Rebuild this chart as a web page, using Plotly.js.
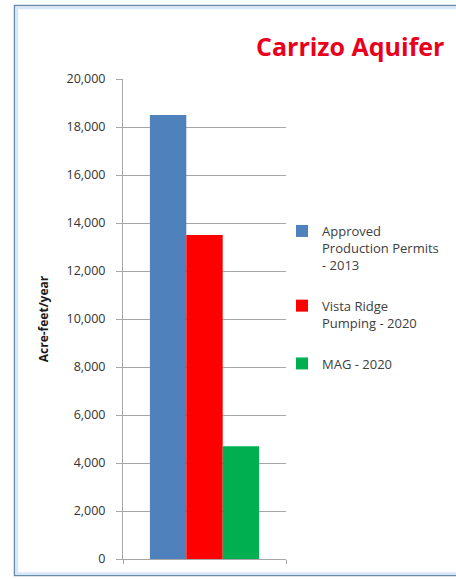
<!DOCTYPE html>
<html>
<head>
<meta charset="utf-8">
<script src="https://cdn.plot.ly/plotly-3.0.1.min.js"></script>
<style>
html,body{margin:0;padding:0;background:#fff;overflow:hidden;}
#chart{width:456px;height:579px;}
</style>
</head>
<body>
<div id="chart"></div>
<script>
const categories = ["Carrizo Aquifer"];
const seriesNames = ["Approved<br>Production Permits<br>- 2013", "Vista Ridge<br>Pumping - 2020", "MAG - 2020"];
const seriesValues = [[18500], [13500], [4700]];
const seriesColors = ["#4f81bd", "#ff0000", "#00b050"];
const yTickValues = [0, 2000, 4000, 6000, 8000, 10000, 12000, 14000, 16000, 18000, 20000];
const yTickLabels = ["0", "2,000", "4,000", "6,000", "8,000", "10,000", "12,000", "14,000", "16,000", "18,000", "20,000"];

const traces = seriesNames.map((name, i) => ({
  type: "bar",
  name: name,
  x: categories,
  y: seriesValues[i],
  marker: {color: seriesColors[i], line: {width: 0}},
  legendgroup: "g" + i,
  hoverinfo: "y+name"
}));

const L = 123, R = 286, T = 79, B = 559;
const px2x = p => (p - L) / (R - L);
const px2y = p => (B - p) / (B - T);

const layout = {
  width: 456, height: 579,
  margin: {l: L, r: 456 - R, t: T, b: 579 - B, autoexpand: false},
  paper_bgcolor: "#ffffff",
  plot_bgcolor: "#ffffff",
  font: {family: "Open Sans, sans-serif", color: "#404040", size: 12},
  barmode: "group",
  bargap: 0.33,
  bargroupgap: 0,
  title: {
    text: "Carrizo Aquifer",
    font: {family: "Open Sans, sans-serif", size: 25, color: "#e8001c", weight: "bold"},
    x: 256 / 456, xref: "container", xanchor: "left",
    y: 1 - 47 / 579, yref: "container", yanchor: "middle"
  },
  xaxis: {
    showticklabels: false,
    showgrid: false,
    showline: true,
    linecolor: "#a6a6a6",
    linewidth: 1,
    ticks: "outside",
    tickson: "boundaries",
    ticklen: 4,
    tickcolor: "#a6a6a6",
    zeroline: false,
    fixedrange: true
  },
  yaxis: {
    range: [0, 20000],
    tickvals: yTickValues,
    ticktext: yTickLabels,
    showline: true,
    linecolor: "#a6a6a6",
    linewidth: 1,
    ticks: "outside",
    ticklen: 6,
    tickcolor: "#a6a6a6",
    ticklabelstandoff: 8,
    showgrid: true,
    gridcolor: "#a6a6a6",
    gridwidth: 1,
    zeroline: false,
    tickfont: {family: "Open Sans, sans-serif", size: 12.5, color: "#333333"},
    title: {
      text: "Acre-feet/year",
      font: {family: "Open Sans, sans-serif", size: 12, color: "#1a1a1a", weight: "bold"},
      standoff: 15
    },
    fixedrange: true
  },
  showlegend: true,
  legend: {
    x: px2x(282), xanchor: "left",
    y: px2y(216), yanchor: "top",
    orientation: "v",
    traceorder: "grouped",
    tracegroupgap: 21,
    valign: "top",
    font: {family: "Open Sans, sans-serif", size: 13, color: "#404040"},
    bgcolor: "rgba(0,0,0,0)",
    itemwidth: 30,
    itemclick: false
  },
  shapes: [
    {type: "rect", xref: "paper", yref: "paper",
     x0: px2x(14.5), x1: px2x(470), y0: px2y(575.5), y1: px2y(5.5),
     line: {color: "#6b8bb0", width: 1.5}, fillcolor: "rgba(0,0,0,0)", layer: "below"},
    {type: "rect", xref: "paper", yref: "paper",
     x0: px2x(17), x1: px2x(470), y0: px2y(573.5), y1: px2y(8),
     line: {color: "#d6e8f7", width: 2.5}, fillcolor: "rgba(0,0,0,0)", layer: "below"}
  ]
};

Plotly.newPlot("chart", traces, layout, {displayModeBar: false, staticPlot: false});
</script>
</body>
</html>
